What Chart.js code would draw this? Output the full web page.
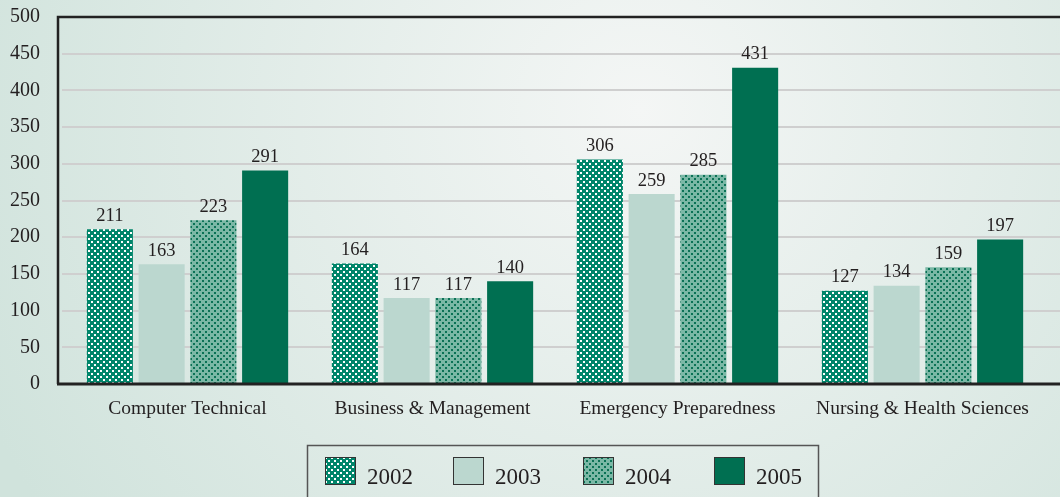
<!DOCTYPE html>
<html>
<head>
<meta charset="utf-8">
<script src="https://cdn.jsdelivr.net/npm/chart.js@4"></script>
<style>
  html, body { margin: 0; padding: 0; background: #e4eeea; }
  #chart { display: block; }
</style>
</head>
<body>
<canvas id="chart" width="1060" height="497"></canvas>
<script>
// datos
const categories = ['Computer Technical', 'Business & Management', 'Emergency Preparedness', 'Nursing & Health Sciences'];
const years = ['2002', '2003', '2004', '2005'];
const values2002 = [211, 164, 306, 127];
const values2003 = [163, 117, 259, 134];
const values2004 = [223, 117, 285, 159];
const values2005 = [291, 140, 431, 197];
const yMax = 500;
const yStep = 50;

const serif = "'Liberation Serif', 'DejaVu Serif', serif";
const textColor = '#231f20';

// patrones de puntos
function dotPattern(base, dot) {
    const c = document.createElement('canvas');
    c.width = 6; c.height = 6;
    const g = c.getContext('2d');
    g.fillStyle = base;
    g.fillRect(0, 0, 6, 6);
    g.fillStyle = dot;
    g.fillRect(1, 1, 2, 2);
    g.fillRect(4, 4, 2, 2);
    return g.createPattern(c, 'repeat');
}
const fill2002 = dotPattern('#00856a', '#ffffff');
const fill2003 = '#bbd7cf';
const fill2004 = dotPattern('#7bb8a6', '#0b7256');
const fill2005 = '#006f51';

const bgPlugin = {
    id: 'bg',
    beforeDraw(chart) {
        const ctx = chart.ctx;
        const g = ctx.createRadialGradient(640, 110, 0, 640, 110, 720);
        g.addColorStop(0, '#f4f6f5');
        g.addColorStop(1, '#d0e3dc');
        ctx.save();
        ctx.fillStyle = g;
        ctx.fillRect(0, 0, chart.width, chart.height);
        ctx.restore();
    },
    beforeDatasetsDraw(chart) {
        const ctx = chart.ctx;
        const y = chart.scales.y;
        const left = 58;
        ctx.save();
        ctx.strokeStyle = '#cfcfcf';
        ctx.lineWidth = 2;
        for (let v = yStep; v < yMax; v += yStep) {
            const py = Math.round(y.getPixelForValue(v));
            ctx.beginPath();
            ctx.moveTo(left + 4, py);
            ctx.lineTo(chart.width, py);
            ctx.stroke();
        }
        ctx.strokeStyle = '#222';
        ctx.lineWidth = 2.5;
        const top = y.getPixelForValue(yMax);
        const bottom = y.getPixelForValue(0);
        ctx.beginPath();
        ctx.moveTo(chart.width, top);
        ctx.lineTo(left, top);
        ctx.lineTo(left, bottom);
        ctx.stroke();
        ctx.restore();
    },
    afterDatasetsDraw(chart) {
        const ctx = chart.ctx;
        const y = chart.scales.y;
        const bottom = y.getPixelForValue(0);
        ctx.save();
        ctx.strokeStyle = '#222';
        ctx.lineWidth = 3;
        ctx.beginPath();
        ctx.moveTo(57, bottom);
        ctx.lineTo(chart.width, bottom);
        ctx.stroke();

        // etiquetas de valores
        ctx.fillStyle = textColor;
        ctx.font = '18.5px ' + serif;
        ctx.textAlign = 'center';
        ctx.textBaseline = 'bottom';
        chart.data.datasets.forEach((ds, i) => {
            chart.getDatasetMeta(i).data.forEach((bar, j) => {
                ctx.fillText(ds.data[j], bar.x, bar.y - 4);
            });
        });

        // leyenda
        ctx.strokeStyle = '#555';
        ctx.lineWidth = 1.5;
        ctx.strokeRect(307.5, 445.5, 511, 60);
        const xs = [325, 453, 583, 714];
        ctx.font = '23px ' + serif;
        ctx.textAlign = 'left';
        ctx.textBaseline = 'alphabetic';
        chart.data.datasets.forEach((ds, i) => {
            ctx.fillStyle = ds.backgroundColor;
            ctx.fillRect(xs[i], 457, 30, 27);
            ctx.strokeStyle = '#333';
            ctx.lineWidth = 1;
            ctx.strokeRect(xs[i] + 0.5, 457.5, 30, 27);
            ctx.fillStyle = textColor;
            ctx.fillText(ds.label, xs[i] + 42, 484);
        });
        ctx.restore();
    }
};

const ctx = document.getElementById('chart').getContext('2d');
new Chart(ctx, {
    type: 'bar',
    data: {
        labels: categories,
        datasets: [
            { label: years[0], data: values2002, backgroundColor: fill2002 },
            { label: years[1], data: values2003, backgroundColor: fill2003 },
            { label: years[2], data: values2004, backgroundColor: fill2004 },
            { label: years[3], data: values2005, backgroundColor: fill2005 }
        ]
    },
    options: {
        responsive: false,
        animation: false,
        layout: { padding: { top: 17, right: 15, left: 0, bottom: 0 } },
        datasets: { bar: { categoryPercentage: 0.845, barPercentage: 0.89, borderWidth: 0 } },
        plugins: { legend: { display: false }, tooltip: { enabled: false } },
        scales: {
            x: {
                grid: { display: false, drawTicks: false },
                border: { display: false },
                ticks: { color: textColor, font: { family: serif, size: 19.5 }, padding: 13, maxRotation: 0 },
                afterFit: s => { s.height = 113; s.paddingLeft = 0; s.paddingRight = 0; }
            },
            y: {
                min: 0, max: yMax,
                grid: { display: false, drawTicks: false },
                border: { display: false },
                ticks: { stepSize: yStep, color: textColor, font: { family: serif, size: 20 }, padding: 25 },
                afterFit: s => { s.width = 65; s.paddingTop = 0; s.paddingBottom = 0; }
            }
        }
    },
    plugins: [bgPlugin]
});
</script>
</body>
</html>
